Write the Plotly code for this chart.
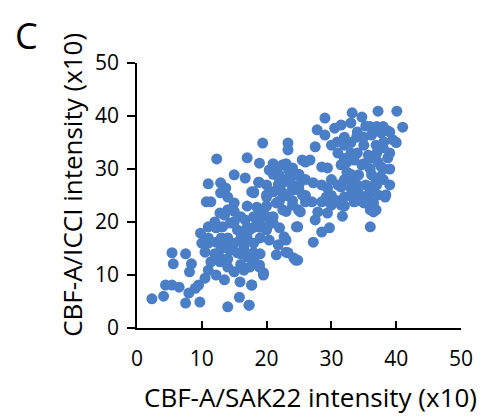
import plotly.graph_objects as go

# Data (intensity x10)
x_vals = [
    2.3, 4.1, 4.4, 5.4, 6.5, 5.4, 5.6, 7.5, 8.4, 8.1, 7.5, 9.7, 9.0, 8.0, 9.5, 10.5, 11.0, 12.2,
    14.0, 15.8, 17.3, 17.7, 19.5, 13.5, 15.9, 14.0, 15.0, 16.5, 12.8, 11.4, 10.5, 9.8, 10.7, 11.4,
    11.0, 12.2, 13.2, 12.2, 13.5, 14.4, 15.5, 17.0, 12.9, 18.0, 18.9, 19.5, 17.4, 13.5, 12.8, 14.0,
    15.0, 14.0, 12.9, 14.4, 15.5, 15.9, 16.7, 17.4, 16.5, 18.0, 18.5, 19.5, 18.9, 20.0, 21.0, 20.4,
    21.8, 23.0, 23.3, 24.5, 24.6, 22.0, 22.5, 24.0, 21.5, 20.4, 22.5, 24.9,
    19.4, 12.3, 17.0, 23.3, 23.3, 18.9, 25.5, 15.0, 16.7, 11.0, 12.9, 13.7, 18.8, 18.0, 20.4, 21.5,
    21.9, 23.4, 24.5, 22.5, 24.0, 21.0, 20.0,
    29.0, 27.8, 29.0, 30.5, 31.5, 33.0, 30.0, 27.5, 30.9, 32.0, 26.7, 26.0, 28.5, 29.4, 31.5, 32.4,
    21.0, 22.5, 24.0, 21.9, 23.4, 24.9, 21.8, 24.0, 25.5, 27.2, 28.5, 29.4, 31.5, 33.0, 32.4, 20.0,
    18.8, 17.7, 27.0, 28.5, 30.0, 31.5, 33.5,
    37.2, 40.1, 41.0, 33.2, 34.7, 35.3, 33.9, 36.2, 37.7, 38.7, 39.5, 35.0, 36.9, 38.1, 35.7, 37.2,
    38.7, 33.5, 34.7, 37.7, 34.2, 36.2, 37.5, 33.2, 35.3, 36.8, 38.4, 37.2, 35.7, 34.2, 35.0, 36.5,
    36.0, 36.0, 36.9,
    31.7, 27.2, 28.5, 29.7, 27.5, 24.8, 24.8, 25.2, 26.0, 27.9, 29.4, 29.2, 36.5, 35.7, 38.3, 32.0, 33.9,
    21.5, 24.2, 23.0, 22.7, 17.7, 17.3, 19.5, 18.9,
    21.0, 22.0, 23.0, 24.0, 25.0, 22.0, 23.0, 20.0, 21.0, 25.0, 26.0,
    14.0, 15.0, 16.0, 17.0, 18.0, 16.0, 17.0, 19.0, 18.0, 15.0, 19.0, 20.0, 17.0, 19.0, 14.0, 13.0, 12.0, 11.0,
    31.0, 32.0, 33.0, 34.0, 35.0, 36.0, 34.0, 33.0, 32.0, 31.0, 30.0, 36.0, 37.0, 38.0, 35.0, 36.0,
    34.0, 37.0, 38.0, 32.0, 33.0, 39.0, 38.0, 39.0, 37.0, 36.0, 35.0, 34.0, 33.0, 32.0, 31.0, 30.0,
    29.0, 38.0, 39.0, 40.0, 39.0,
    13.0, 14.0, 16.0, 17.0, 18.0, 19.0, 20.0, 21.0, 20.0, 22.0, 23.0, 24.0, 25.0, 26.0, 11.0, 12.0,
    15.0, 16.0, 18.0, 10.0,
]
y_vals = [
    5.5, 6.0, 8.1, 8.1, 7.7, 14.2, 12.1, 14.0, 12.1, 10.6, 4.7, 4.9, 7.5, 6.6, 8.1, 9.4, 10.9, 10.0,
    4.0, 5.8, 4.3, 8.1, 10.0, 9.1, 8.7, 11.5, 10.6, 10.9, 12.5, 12.5, 14.3, 17.9, 23.8, 23.8,
    19.1, 18.9, 19.1, 16.2, 16.0, 14.7, 14.2, 13.4, 13.2, 14.2, 11.5, 10.4, 11.5, 21.3, 21.7, 22.3,
    23.6, 24.7, 25.5, 19.8, 18.5, 16.6, 20.4, 18.5, 15.3, 25.5, 22.8, 22.3, 19.8, 18.5, 19.8, 16.6,
    15.7, 16.6, 14.2, 12.8, 19.1, 18.9, 22.3, 23.2, 23.6, 25.5, 25.5, 22.3,
    34.9, 31.9, 32.1, 34.9, 33.6, 31.1, 31.7, 28.9, 28.3, 27.2, 27.4, 26.4, 27.5, 25.7, 29.8, 30.4,
    28.9, 29.8, 28.9, 27.4, 26.6, 25.7, 24.7,
    39.6, 37.4, 36.4, 37.7, 38.3, 38.7, 34.5, 34.2, 35.1, 34.5, 31.7, 31.3, 30.4, 30.2, 30.8, 31.3,
    30.4, 30.8, 30.2, 28.9, 28.3, 28.9, 27.0, 26.0, 25.1, 27.4, 27.0, 26.4, 26.6, 26.4, 29.4, 25.1,
    27.5, 25.7, 23.8, 23.8, 23.2, 23.2, 23.8,
    40.9, 40.9, 37.9, 40.6, 39.8, 38.1, 36.0, 36.4, 36.8, 37.2, 35.5, 34.5, 34.5, 35.1, 32.6, 31.3,
    32.1, 31.7, 30.8, 30.4, 28.9, 28.9, 28.5, 27.4, 27.0, 27.4, 25.1, 25.1, 25.1, 25.5, 23.6, 23.6,
    19.1, 22.3, 22.3,
    21.1, 16.2, 18.1, 18.9, 20.4, 19.1, 12.8, 21.9, 23.8, 21.9, 21.7, 24.7, 21.9, 23.6, 24.7, 24.7, 25.5,
    13.8, 13.2, 14.3, 17.2, 8.1, 4.3, 10.4, 11.9,
    29.0, 28.0, 31.0, 27.0, 29.0, 26.0, 25.0, 27.0, 31.0, 27.0, 28.0,
    17.0, 16.0, 18.0, 17.0, 16.0, 21.0, 23.0, 21.0, 19.0, 20.0, 17.0, 21.0, 14.0, 14.0, 13.0, 15.0, 14.0, 16.0,
    33.0, 32.0, 33.0, 33.0, 31.0, 30.0, 27.0, 29.0, 28.0, 27.0, 28.0, 32.0, 33.0, 34.0, 36.0, 38.0,
    37.0, 38.0, 38.0, 36.0, 35.0, 30.0, 28.0, 27.0, 27.0, 26.0, 24.0, 24.0, 25.0, 23.0, 24.0, 25.0,
    24.0, 30.0, 33.0, 35.0, 37.0,
    17.0, 15.0, 14.0, 19.0, 21.0, 19.0, 19.0, 21.0, 23.0, 24.0, 22.0, 24.0, 26.0, 25.0, 17.0, 20.0,
    22.0, 12.0, 13.0, 16.0,
]

x_ticks = [0, 10, 20, 30, 40, 50]
y_ticks = [0, 10, 20, 30, 40, 50]
x_title = "CBF-A/SAK22 intensity (x10)"
y_title = "CBF-A/ICCI intensity (x10)"
panel_label = "C"

FONT = "Open Sans"
BLUE = "#4A7EC6"

# page body has an 8px margin, so the figure is 8px smaller than the window
W, H = 477, 409

fig = go.Figure(
    go.Scatter(
        x=x_vals, y=y_vals, mode="markers",
        marker=dict(size=11, color=BLUE, line=dict(width=0)),
        hoverinfo="skip", cliponaxis=False,
    )
)

fig.update_layout(
    width=W, height=H,
    margin=dict(l=129, r=15, t=55, b=89),
    paper_bgcolor="white", plot_bgcolor="white",
    showlegend=False,
    font=dict(family=FONT, color="black", size=20),
    annotations=[
        dict(text=panel_label, xref="paper", yref="paper", x=-0.342, y=1.204,
             xanchor="center", yanchor="top", showarrow=False,
             font=dict(family=FONT, size=36, color="black")),
        dict(text=x_title, xref="paper", yref="paper", x=0.5345, y=-0.2604,
             xanchor="center", yanchor="middle", showarrow=False,
             font=dict(family=FONT, size=26, color="black")),
        dict(text=y_title, xref="paper", yref="paper", x=-0.2012, y=0.5396,
             xanchor="center", yanchor="middle", showarrow=False, textangle=-90,
             font=dict(family=FONT, size=26, color="black")),
    ],
)

fig.update_xaxes(
    range=[0, 50], tickvals=x_ticks, ticktext=[str(v) for v in x_ticks],
    showgrid=False, zeroline=False, showline=True, linecolor="black", linewidth=1.5,
    ticks="inside", ticklen=7, tickwidth=1.5, tickcolor="black",
    ticklabelstandoff=11, ticklabeloverflow="allow",
    tickfont=dict(family=FONT, size=21, color="black"),
)
fig.update_yaxes(
    range=[0, 50], tickvals=y_ticks, ticktext=[str(v) for v in y_ticks],
    showgrid=False, zeroline=False, showline=True, linecolor="black", linewidth=1.5,
    ticks="outside", ticklen=8, tickwidth=1.5, tickcolor="black",
    ticklabelstandoff=4, ticklabeloverflow="allow",
    tickfont=dict(family=FONT, size=21, color="black"),
)

fig.write_html("out.html")
